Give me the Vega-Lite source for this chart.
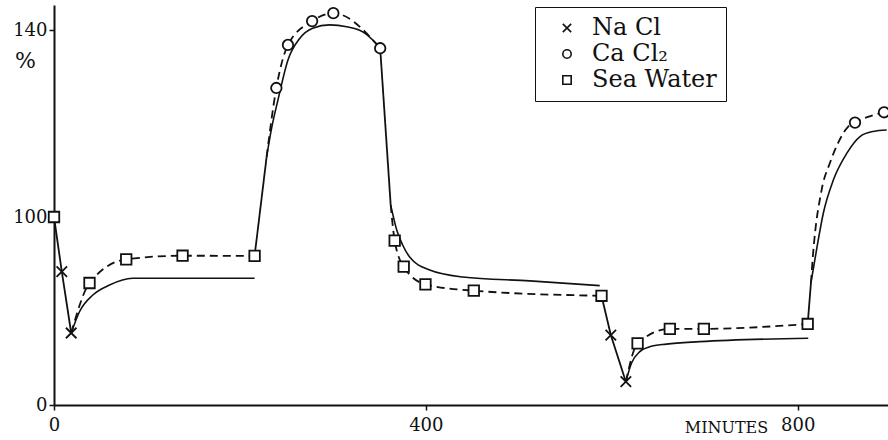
{
  "$schema": "https://vega.github.io/schema/vega-lite/v6.json",
  "width": 834,
  "height": 400,
  "autosize": {"type": "none"},
  "padding": {"left": 54, "top": 5, "right": 0, "bottom": 35},
  "background": "white",
  "datasets": {
    "transfer": [
      {"segment": "t1", "minutes": 0, "percent": 100},
      {"segment": "t1", "minutes": 8.4, "percent": 70.9},
      {"segment": "t1", "minutes": 18.5, "percent": 38.3},
      {"segment": "t2", "minutes": 215.8, "percent": 79.3},
      {"segment": "t2", "minutes": 228.7, "percent": 112.8},
      {"segment": "t3", "minutes": 350.9, "percent": 136.1},
      {"segment": "t3", "minutes": 362.2, "percent": 102.6},
      {"segment": "t4", "minutes": 589.0, "percent": 58.1},
      {"segment": "t4", "minutes": 599.0, "percent": 37.2},
      {"segment": "t4", "minutes": 615.2, "percent": 12.4},
      {"segment": "t5", "minutes": 810.8, "percent": 43.1},
      {"segment": "t5", "minutes": 814.3, "percent": 64.9}
    ],
    "observed": [
      {"segment": "o1", "minutes": 18.5, "percent": 38.3},
      {"segment": "o1", "minutes": 38.2, "percent": 64.9},
      {"segment": "o1", "minutes": 77.7, "percent": 77.5},
      {"segment": "o1", "minutes": 138.3, "percent": 79.4},
      {"segment": "o1", "minutes": 215.8, "percent": 79.3},
      {"segment": "o2", "minutes": 228.7, "percent": 112.8},
      {"segment": "o2", "minutes": 239.2, "percent": 127.6},
      {"segment": "o2", "minutes": 251.7, "percent": 136.8},
      {"segment": "o2", "minutes": 277.7, "percent": 141.9},
      {"segment": "o2", "minutes": 300.5, "percent": 143.6},
      {"segment": "o2", "minutes": 350.9, "percent": 136.1},
      {"segment": "o3", "minutes": 362.2, "percent": 102.6},
      {"segment": "o3", "minutes": 366.5, "percent": 87.4},
      {"segment": "o3", "minutes": 376.2, "percent": 73.6},
      {"segment": "o3", "minutes": 399.6, "percent": 64.2},
      {"segment": "o3", "minutes": 451.6, "percent": 60.8},
      {"segment": "o3", "minutes": 589.0, "percent": 58.1},
      {"segment": "o4", "minutes": 615.2, "percent": 12.4},
      {"segment": "o4", "minutes": 627.8, "percent": 32.8},
      {"segment": "o4", "minutes": 662.5, "percent": 40.5},
      {"segment": "o4", "minutes": 699.1, "percent": 40.5},
      {"segment": "o4", "minutes": 810.8, "percent": 43.1},
      {"segment": "o5", "minutes": 814.3, "percent": 64.9},
      {"segment": "o5", "minutes": 816.5, "percent": 79.8},
      {"segment": "o5", "minutes": 825.8, "percent": 105.8},
      {"segment": "o5", "minutes": 834.8, "percent": 111.6},
      {"segment": "o5", "minutes": 843.4, "percent": 115.8},
      {"segment": "o5", "minutes": 854.2, "percent": 119.3},
      {"segment": "o5", "minutes": 861.7, "percent": 120.2},
      {"segment": "o5", "minutes": 892.9, "percent": 122.4}
    ],
    "calculated": [
      {"segment": "c1", "minutes": 18.5, "percent": 38.3},
      {"segment": "c1", "minutes": 27.4, "percent": 49.6},
      {"segment": "c1", "minutes": 41.8, "percent": 58.5},
      {"segment": "c1", "minutes": 59.7, "percent": 63.8},
      {"segment": "c1", "minutes": 84.5, "percent": 67.4},
      {"segment": "c1", "minutes": 215.8, "percent": 67.4},
      {"segment": "c2", "minutes": 228.7, "percent": 112.8},
      {"segment": "c2", "minutes": 234.1, "percent": 119.0},
      {"segment": "c2", "minutes": 240.9, "percent": 125.0},
      {"segment": "c2", "minutes": 251.7, "percent": 133.6},
      {"segment": "c2", "minutes": 264.3, "percent": 138.2},
      {"segment": "c2", "minutes": 278.3, "percent": 140.4},
      {"segment": "c2", "minutes": 296.6, "percent": 141.1},
      {"segment": "c2", "minutes": 314.9, "percent": 140.7},
      {"segment": "c2", "minutes": 332.1, "percent": 139.6},
      {"segment": "c2", "minutes": 346.1, "percent": 137.2},
      {"segment": "c2", "minutes": 350.9, "percent": 136.1},
      {"segment": "c3", "minutes": 362.2, "percent": 102.6},
      {"segment": "c3", "minutes": 368.7, "percent": 93.1},
      {"segment": "c3", "minutes": 375.1, "percent": 85.1},
      {"segment": "c3", "minutes": 382.6, "percent": 78.7},
      {"segment": "c3", "minutes": 404.2, "percent": 71.8},
      {"segment": "c3", "minutes": 439.7, "percent": 68.1},
      {"segment": "c3", "minutes": 511.8, "percent": 66.0},
      {"segment": "c3", "minutes": 587.1, "percent": 63.5},
      {"segment": "c4", "minutes": 615.2, "percent": 12.4},
      {"segment": "c4", "minutes": 621.3, "percent": 22.3},
      {"segment": "c4", "minutes": 630.2, "percent": 28.4},
      {"segment": "c4", "minutes": 640.9, "percent": 31.0},
      {"segment": "c4", "minutes": 658.9, "percent": 32.4},
      {"segment": "c4", "minutes": 694.6, "percent": 33.7},
      {"segment": "c4", "minutes": 811.4, "percent": 35.5},
      {"segment": "c5", "minutes": 814.3, "percent": 64.9},
      {"segment": "c5", "minutes": 820.9, "percent": 84.2},
      {"segment": "c5", "minutes": 827.6, "percent": 100.8},
      {"segment": "c5", "minutes": 838.4, "percent": 107.9},
      {"segment": "c5", "minutes": 852.8, "percent": 113.6},
      {"segment": "c5", "minutes": 867.1, "percent": 117.2},
      {"segment": "c5", "minutes": 881.4, "percent": 118.3},
      {"segment": "c5", "minutes": 895.8, "percent": 118.6}
    ],
    "points": [
      {"solution": "Sea Water", "minutes": 0, "percent": 100},
      {"solution": "Na Cl", "minutes": 8.4, "percent": 70.9},
      {"solution": "Na Cl", "minutes": 18.5, "percent": 38.3},
      {"solution": "Sea Water", "minutes": 38.2, "percent": 64.9},
      {"solution": "Sea Water", "minutes": 77.7, "percent": 77.5},
      {"solution": "Sea Water", "minutes": 138.3, "percent": 79.4},
      {"solution": "Sea Water", "minutes": 215.8, "percent": 79.3},
      {"solution": "Ca Cl₂", "minutes": 239.2, "percent": 127.6},
      {"solution": "Ca Cl₂", "minutes": 251.7, "percent": 136.8},
      {"solution": "Ca Cl₂", "minutes": 277.7, "percent": 141.9},
      {"solution": "Ca Cl₂", "minutes": 300.5, "percent": 143.6},
      {"solution": "Ca Cl₂", "minutes": 350.9, "percent": 136.1},
      {"solution": "Sea Water", "minutes": 366.5, "percent": 87.4},
      {"solution": "Sea Water", "minutes": 376.2, "percent": 73.6},
      {"solution": "Sea Water", "minutes": 399.6, "percent": 64.2},
      {"solution": "Sea Water", "minutes": 451.6, "percent": 60.8},
      {"solution": "Sea Water", "minutes": 589.0, "percent": 58.1},
      {"solution": "Na Cl", "minutes": 599.0, "percent": 37.2},
      {"solution": "Na Cl", "minutes": 615.2, "percent": 12.4},
      {"solution": "Sea Water", "minutes": 627.8, "percent": 32.8},
      {"solution": "Sea Water", "minutes": 662.5, "percent": 40.5},
      {"solution": "Sea Water", "minutes": 699.1, "percent": 40.5},
      {"solution": "Sea Water", "minutes": 810.8, "percent": 43.1},
      {"solution": "Ca Cl₂", "minutes": 861.7, "percent": 120.2},
      {"solution": "Ca Cl₂", "minutes": 892.9, "percent": 122.4}
    ]
  },
  "encoding": {
    "x": {
      "field": "minutes",
      "type": "quantitative",
      "scale": {"domain": [0, 897.2], "nice": false, "zero": false},
      "axis": {
        "values": [0, 400, 800],
        "title": "MINUTES",
        "titleX": 672,
        "titleY": 27,
        "titleAlign": "center",
        "titleBaseline": "alphabetic",
        "titleFontSize": 16,
        "titleFontWeight": "normal",
        "labelFontSize": 18,
        "labelFlush": false,
        "labelPadding": 6,
        "tickSize": 5,
        "tickWidth": 1.5,
        "domainWidth": 2,
        "grid": false
      }
    },
    "y": {
      "field": "percent",
      "type": "quantitative",
      "scale": {"domain": [0, 100, 140, 145.35], "range": [400, 212, 25, 0], "nice": false, "zero": false},
      "axis": {
        "values": [0, 100, 140],
        "title": "%",
        "titleAngle": 0,
        "titleX": -29,
        "titleY": 55,
        "titleAlign": "center",
        "titleBaseline": "middle",
        "titleFontSize": 22,
        "titleFontWeight": "normal",
        "labelFontSize": 18,
        "labelFlush": false,
        "labelPadding": 2,
        "tickSize": 5,
        "tickWidth": 1.5,
        "domainWidth": 2,
        "grid": false
      }
    }
  },
  "layer": [
    {
      "data": {"name": "calculated"},
      "mark": {"type": "line", "interpolate": "monotone", "color": "#111", "strokeWidth": 1.6},
      "encoding": {"detail": {"field": "segment", "type": "nominal"}}
    },
    {
      "data": {"name": "observed"},
      "mark": {"type": "line", "interpolate": "monotone", "color": "#111", "strokeWidth": 1.8, "strokeDash": [8, 5]},
      "encoding": {"detail": {"field": "segment", "type": "nominal"}}
    },
    {
      "data": {"name": "transfer"},
      "mark": {"type": "line", "interpolate": "linear", "color": "#111", "strokeWidth": 1.8},
      "encoding": {"detail": {"field": "segment", "type": "nominal"}}
    },
    {
      "data": {"name": "points"},
      "mark": {"type": "point", "filled": false, "color": "#111", "fill": "white", "strokeWidth": 1.8, "size": 110, "opacity": 1},
      "encoding": {
        "shape": {
          "field": "solution",
          "type": "nominal",
          "scale": {"domain": ["Na Cl", "Ca Cl₂", "Sea Water"], "range": ["M-1,-1L1,1M-1,1L1,-1", "circle", "square"]},
          "legend": {
            "title": null,
            "orient": "none",
            "legendX": 481,
            "legendY": 2,
            "padding": 9,
            "strokeColor": "#111",
            "labelFontSize": 24,
            "labelColor": "#111",
            "symbolSize": 70,
            "symbolStrokeWidth": 1.6,
            "symbolOffset": 11,
            "labelOffset": 13,
            "rowPadding": 2
          }
        }
      }
    }
  ],
  "config": {
    "view": {"stroke": null},
    "font": "DejaVu Serif",
    "axis": {"domainColor": "#111", "tickColor": "#111", "labelColor": "#111", "titleColor": "#111", "labelFont": "DejaVu Serif", "titleFont": "DejaVu Serif"},
    "legend": {"labelFont": "DejaVu Serif"}
  }
}
